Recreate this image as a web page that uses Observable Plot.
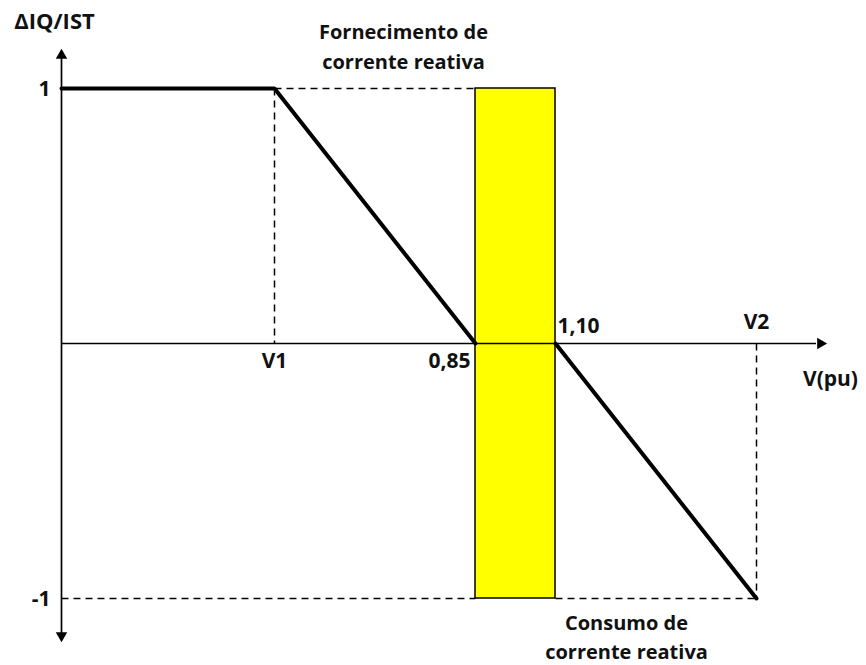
<!DOCTYPE html>
<html><head><meta charset="utf-8">
<script src="https://cdn.jsdelivr.net/npm/d3@7"></script>
<script src="https://cdn.jsdelivr.net/npm/@observablehq/plot@0.6"></script>
<style>body{margin:0;background:#fff}</style>
</head><body><div id="chart"></div>
<script>
// Key voltage positions along the horizontal axis (schematic units)
const keyLabels = ["V1", "0,85", "1,10", "V2"];
const keyPos = [2.13, 4.14, 4.94, 6.95];
const axisEnd = 7.65;
// ΔIQ/IST levels
const levelLabels = ["1", "-1"];
const levelValues = [1, -1];
// Characteristic curve (two branches)
const supplyX = [0, 2.13, 4.14];
const supplyY = [1, 1, 0];
const consumeX = [4.94, 6.95];
const consumeY = [0, -1];
// Dead band (yellow)
const bandX = [4.14, 4.94];
const bandY = [-1, 1];
// Annotation texts
const yTitle = "ΔIQ/IST";
const xTitle = "V(pu)";
const supplyText = "Fornecimento de\ncorrente reativa";
const consumeText = "Consumo de\ncorrente reativa";

const font = "'Open Sans', sans-serif";
const ink = "#111";
const supply = supplyX.map((x, i) => ({x, y: supplyY[i]}));
const consume = consumeX.map((x, i) => ({x, y: consumeY[i]}));
const lbl = {fontSize: 21, fontWeight: "bold", fill: ink};

const chart = Plot.plot({
  width: 866,
  height: 665,
  margin: 0,
  x: {domain: [0, axisEnd], range: [61, 826], axis: null},
  y: {domain: [-1, 1], range: [598, 88], axis: null},
  style: {fontFamily: font, background: "#fff"},
  marks: [
    // dashed guides
    Plot.link([
      {x1: keyPos[0], y1: 1, x2: bandX[0], y2: 1},
      {x1: keyPos[0], y1: 1, x2: keyPos[0], y2: 0},
      {x1: 0, y1: -1, x2: bandX[0], y2: -1},
      {x1: bandX[1], y1: -1, x2: keyPos[3], y2: -1},
      {x1: keyPos[3], y1: 0, x2: keyPos[3], y2: -1}
    ], {x1: "x1", y1: "y1", x2: "x2", y2: "y2", stroke: "black", strokeWidth: 1.5, strokeDasharray: "7,5"}),
    // yellow band
    Plot.rect([{x1: bandX[0], x2: bandX[1], y1: bandY[0], y2: bandY[1]}],
      {x1: "x1", x2: "x2", y1: "y1", y2: "y2", fill: "#ffff00", stroke: "black", strokeWidth: 1.5}),
    // axes
    Plot.ruleY([0], {x1: 0, x2: axisEnd - 0.1, stroke: "black", strokeWidth: 1.7}),
    Plot.ruleX([0], {y1: -1.16, y2: 1.14, stroke: "black", strokeWidth: 1.7}),
    Plot.dot([{x: axisEnd - 0.06, y: 0, r: 90}], {x: "x", y: "y", rotate: "r", symbol: "triangle2", r: 5.5, fill: "black", stroke: null}),
    Plot.dot([{x: 0, y: 1.13}], {x: "x", y: "y", symbol: "triangle2", r: 5.5, fill: "black", stroke: null}),
    Plot.dot([{x: 0, y: -1.145, r: 180}], {x: "x", y: "y", rotate: "r", symbol: "triangle2", r: 5.5, fill: "black", stroke: null}),
    // characteristic curve
    Plot.line(supply, {x: "x", y: "y", stroke: "black", strokeWidth: 4, strokeLinejoin: "miter"}),
    Plot.line(consume, {x: "x", y: "y", stroke: "black", strokeWidth: 4}),
    // level labels
    Plot.text(levelValues, {x: 0, y: d => d, text: (d, i) => levelLabels[i], dx: -11, dy: 1, textAnchor: "end", ...lbl}),
    // key labels
    Plot.text([0], {x: keyPos[0], y: 0, text: () => keyLabels[0], dy: 18, ...lbl}),
    Plot.text([0], {x: keyPos[1], y: 0, text: () => keyLabels[1], dx: -5, dy: 18, textAnchor: "end", ...lbl}),
    Plot.text([0], {x: keyPos[2], y: 0, text: () => keyLabels[2], dx: 2, dy: -17, textAnchor: "start", ...lbl}),
    Plot.text([0], {x: keyPos[3], y: 0, text: () => keyLabels[3], dy: -21, ...lbl}),
    // axis titles
    Plot.text([0], {x: axisEnd, y: 0, text: () => xTitle, dx: 4, dy: 36, textAnchor: "middle", ...lbl}),
    Plot.text([0], {x: 0, y: 1, text: () => yTitle, dx: -7, dy: -67, textAnchor: "middle", fontSize: 22, fontWeight: "bold", fill: ink}),
    // annotations
    Plot.text([0], {x: 3.42, y: 1, text: () => supplyText, dy: -44, lineAnchor: "middle", lineHeight: 1.5, fontSize: 20, fontWeight: "bold", fill: ink}),
    Plot.text([0], {x: 5.65, y: -1, text: () => consumeText, dy: 37, lineAnchor: "middle", lineHeight: 1.45, fontSize: 20, fontWeight: "bold", fill: ink})
  ]
});
document.getElementById("chart").appendChild(chart);
</script>
</body></html>
